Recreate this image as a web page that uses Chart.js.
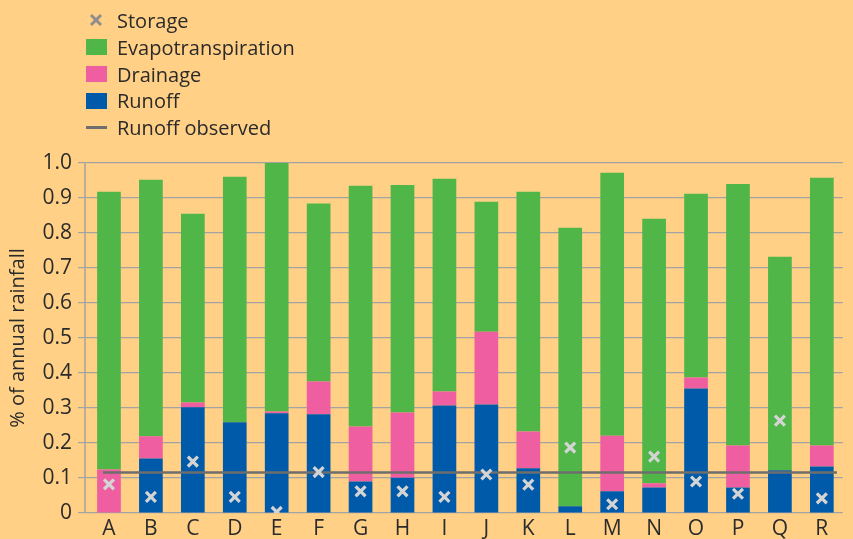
<!DOCTYPE html>
<html>
<head>
<meta charset="utf-8">
<script src="https://cdn.jsdelivr.net/npm/chart.js@4"></script>
<style>
html,body{margin:0;padding:0;background:#ffd085;}
#wrap{position:relative;width:853px;height:539px;overflow:hidden;background:#ffd085;}
#chart{position:absolute;left:0;top:0;}
#legend{position:absolute;left:86px;top:7px;font-family:"Open Sans",sans-serif;font-size:20px;color:#2a2a2a;}
.item{height:26.8px;display:flex;align-items:center;white-space:nowrap;}
.sw{width:21px;height:16px;margin-right:10px;flex:none;display:flex;align-items:center;justify-content:center;}
</style>
</head>
<body>
<div id="wrap">
<canvas id="chart" width="853" height="539"></canvas>
<div id="legend"></div>
</div>
<script>
const categories = ['A','B','C','D','E','F','G','H','I','J','K','L','M','N','O','P','Q','R'];
const runoff = [0, 0.156, 0.302, 0.259, 0.285, 0.282, 0.090, 0.101, 0.307, 0.310, 0.128, 0.019, 0.062, 0.073, 0.356, 0.073, 0.122, 0.133];
const drainage = [0.124, 0.063, 0.014, 0, 0.005, 0.094, 0.157, 0.186, 0.040, 0.208, 0.105, 0, 0.159, 0.012, 0.031, 0.120, 0, 0.060];
const evapotranspiration = [0.794, 0.733, 0.539, 0.702, 0.710, 0.508, 0.688, 0.650, 0.608, 0.371, 0.685, 0.796, 0.751, 0.756, 0.525, 0.747, 0.610, 0.765];
const storage = [0.082, 0.046, 0.147, 0.046, 0.003, 0.117, 0.062, 0.062, 0.046, 0.110, 0.081, 0.187, 0.025, 0.161, 0.090, 0.055, 0.264, 0.042];
const runoffObserved = 0.116;
const observedSpan = [-0.14, 17.36];
const yTickLabels = ['0','0.1','0.2','0.3','0.4','0.5','0.6','0.7','0.8','0.9','1.0'];
const legendLabels = ['Storage','Evapotranspiration','Drainage','Runoff','Runoff observed'];

const COLORS = {runoff:'#005aaa', drainage:'#ee5ea0', et:'#50b648', storage:'#d4d4d4', storageLegend:'#8e8e8e', observed:'#6e6e6e', grid:'#a3a3a3', text:'#2b2b2b'};

const axisLine = {
  id:'axisLine',
  beforeDatasetsDraw(chart){
    const {ctx, chartArea} = chart;
    ctx.save();
    ctx.strokeStyle = COLORS.grid;
    ctx.lineWidth = 1.5;
    ctx.beginPath();
    ctx.moveTo(85, chartArea.top);
    ctx.lineTo(85, chartArea.bottom);
    ctx.stroke();
    ctx.restore();
  }
};

const barCommon = {type:'bar', grouped:false, barPercentage:0.565, categoryPercentage:1, order:2, xAxisID:'x', yAxisID:'y'};

new Chart(document.getElementById('chart'), {
  type:'bar',
  data: {
    labels: categories,
    datasets: [
      {type:'line', label:legendLabels[0], data:storage, showLine:false, pointStyle:'crossRot', pointRadius:7, pointBorderWidth:3.2, pointBorderColor:COLORS.storage, pointBackgroundColor:COLORS.storage, borderColor:COLORS.storage, stack:'storage', order:0, xAxisID:'x', yAxisID:'y'},
      {type:'line', label:legendLabels[4], data:[{x:observedSpan[0], y:runoffObserved},{x:observedSpan[1], y:runoffObserved}], borderColor:COLORS.observed, borderWidth:2.5, pointRadius:0, stack:'obs', order:1, xAxisID:'x2', yAxisID:'y'},
      Object.assign({label:legendLabels[3], data:runoff, backgroundColor:COLORS.runoff}, barCommon),
      Object.assign({label:legendLabels[2], data:drainage, backgroundColor:COLORS.drainage}, barCommon),
      Object.assign({label:legendLabels[1], data:evapotranspiration, backgroundColor:COLORS.et}, barCommon)
    ]
  },
  options: {
    responsive:false,
    animation:false,
    layout:{padding:{top:163, right:0, bottom:0, left:0}},
    plugins:{legend:{display:false}, tooltip:{enabled:false}},
    scales:{
      x:{
        type:'category', stacked:true,
        grid:{display:false, drawTicks:false}, border:{display:false},
        ticks:{font:{family:'Open Sans', size:21, lineHeight:1}, color:COLORS.text, padding:6, maxRotation:0, autoSkip:false},
        afterFit(s){ s.height = 26; }
      },
      x2:{type:'linear', min:-0.5, max:17.5, offset:false, display:false, grid:{offset:false}},
      y:{
        stacked:true, min:0, max:1,
        border:{display:false},
        grid:{color:COLORS.grid, lineWidth:1.2, tickLength:10},
        ticks:{stepSize:0.1, font:{family:'Open Sans', size:21}, color:COLORS.text, padding:6,
          callback:(v,i)=>yTickLabels[i]},
        title:{display:true, text:'% of annual rainfall', font:{family:'Open Sans', size:20}, color:COLORS.text, padding:{top:6, bottom:0}},
        afterFit(s){ s.width = 88; }
      }
    }
  },
  plugins:[axisLine]
});

// HTML legend
const legend = document.getElementById('legend');
const swatches = [
  '<svg width="21" height="16"><line x1="5" y1="3" x2="15" y2="13" stroke="'+COLORS.storageLegend+'" stroke-width="3"/><line x1="15" y1="3" x2="5" y2="13" stroke="'+COLORS.storageLegend+'" stroke-width="3"/></svg>',
  '<div style="width:21px;height:16px;background:'+COLORS.et+'"></div>',
  '<div style="width:21px;height:16px;background:'+COLORS.drainage+'"></div>',
  '<div style="width:21px;height:16px;background:'+COLORS.runoff+'"></div>',
  '<div style="width:21px;height:2.5px;background:'+COLORS.observed+'"></div>'
];
legendLabels.forEach((t,i)=>{
  const d = document.createElement('div');
  d.className='item';
  d.innerHTML = '<span class="sw">'+swatches[i]+'</span><span>'+t+'</span>';
  legend.appendChild(d);
});
</script>
</body>
</html>
